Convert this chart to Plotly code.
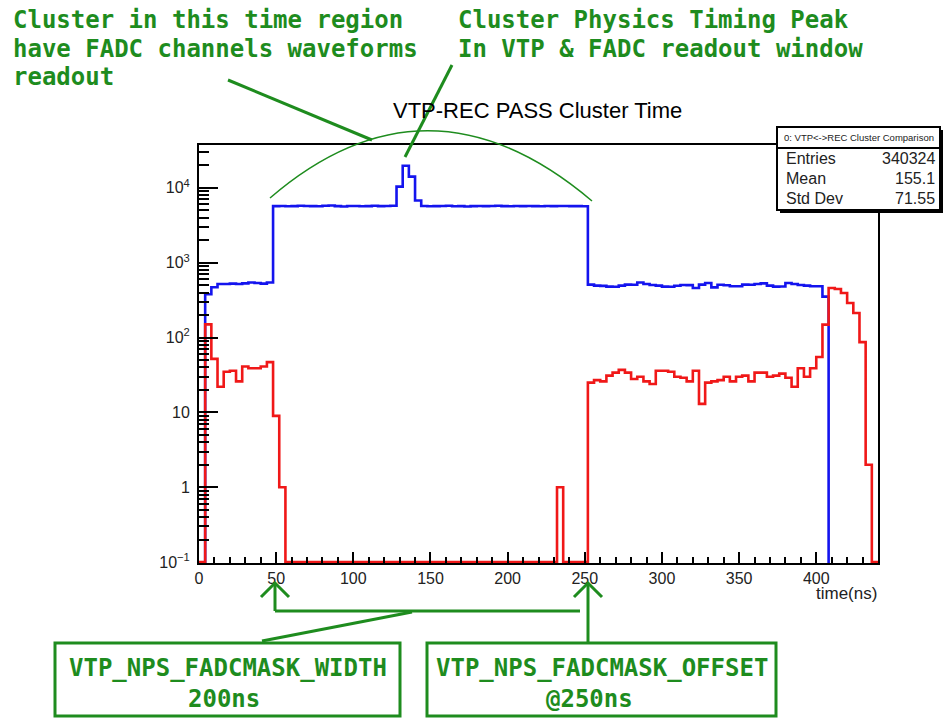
import numpy as np
import plotly.graph_objects as go

# ---- histogram data: 4 ns bins from 0 to 440 ns ----
bin_edges = list(range(0, 444, 4))

# VTP clusters (all)
vtp_counts = (
    [0, 380, 470, 520, 520, 525, 520, 530, 545, 535, 525, 545]
    + [5700, 5720, 5680, 5710, 5760, 5740, 5700, 5690, 5760, 5820,
       5700, 5650, 5720, 5740, 5690, 5700, 5760, 5710, 5730, 5780]
    + [10400, 19800, 14150, 6780]
    + [5740, 5680, 5700, 5720, 5760, 5690, 5700, 5650, 5710, 5720,
       5700, 5740, 5760, 5710, 5690, 5720, 5700, 5730, 5710, 5690,
       5720, 5700, 5740, 5720, 5700, 5710, 5690]
    + [510, 495, 490, 480, 478, 495, 510, 508, 545, 520,
       505, 495, 480, 478, 492, 505, 502, 460, 510, 535,
       468, 508, 500, 485, 485, 510, 508, 520, 530, 495,
       480, 482, 536, 520, 505, 495, 485, 485, 352]
    + [0] * 8
)

# clusters without a matching REC cluster
nomatch_counts = (
    [0, 150, 52, 22, 35, 36, 26, 41, 39, 39, 41, 47, 9, 1]
    + [0] * 44
    + [1]
    + [0] * 4
    + [25, 27, 26, 31, 34, 37, 34, 28, 30, 26,
       24, 36, 36, 35, 30, 29, 26, 36, 13, 25,
       26, 27, 30, 26, 30, 31, 26, 34, 34, 30,
       31, 33, 29, 22, 39, 30, 39, 55, 149]
    + [459, 446, 394, 290, 213, 87, 2, 0]
)

x_tick_vals = [0, 50, 100, 150, 200, 250, 300, 350, 400]
y_tick_vals = [0.1, 1, 10, 100, 1000, 10000]
y_tick_text = ["10<sup>\u22121</sup>", "1", "10", "10<sup>2</sup>", "10<sup>3</sup>", "10<sup>4</sup>"]

stat_title = "0: VTP<->REC Cluster Comparison"
stat_rows = [("Entries", "340324"), ("Mean", "155.1"), ("Std Dev", "71.55")]

plot_title = "VTP-REC PASS Cluster Time"
x_title = "time(ns)"

note_left = ["Cluster in this time region", "have FADC channels waveforms", "readout"]
note_right = ["Cluster Physics Timing Peak", "In VTP & FADC readout window"]
box_width_text = ["VTP_NPS_FADCMASK_WIDTH", "200ns"]
box_offset_text = ["VTP_NPS_FADCMASK_OFFSET", "@250ns"]

# ---- layout geometry (pixels) ----
W, H = 945, 718
L, R, T, B = 199, 878, 145, 563
YMIN_LOG, YMAX_LOG = -1.0, 4.573


def px(x):
    return (x - L) / (R - L)


def py(y):
    return (B - y) / (B - T)


def step_xy(counts, floor):
    # empty bins are drawn at `floor` (on the frame, or below it to hide them)
    ys = [c if c > 0 else floor for c in counts]
    return bin_edges, ys + [ys[-1]]


fig = go.Figure()
bx, by = step_xy(vtp_counts, 10 ** (YMIN_LOG - 1))
fig.add_trace(go.Scatter(x=bx, y=by, mode="lines", line_shape="hv",
                         line=dict(color="#1414ee", width=2.6), hoverinfo="skip"))
rx, ry = step_xy(nomatch_counts, 10 ** YMIN_LOG)
fig.add_trace(go.Scatter(x=rx, y=ry, mode="lines", line_shape="hv",
                         line=dict(color="#f01818", width=2.6), hoverinfo="skip"))

y_minor = [m * 10 ** k for k in range(-1, 5) for m in range(2, 10) if m * 10 ** k < 10 ** YMAX_LOG]
x_minor = list(range(0, 441, 10))

tick_font = dict(family="Liberation Sans, Arial, sans-serif", size=16, color="#222")

fig.update_layout(
    width=W, height=H,
    margin=dict(l=L, r=W - R, t=T, b=H - B, pad=0),
    paper_bgcolor="white", plot_bgcolor="white",
    showlegend=False,
    xaxis=dict(range=[0, 440], tickmode="array", tickvals=x_tick_vals,
               ticks="inside", ticklen=11, tickwidth=2, tickcolor="black",
               minor=dict(tickmode="array", tickvals=x_minor, ticks="inside",
                          ticklen=6, tickwidth=2, tickcolor="black"),
               showline=True, linecolor="black", linewidth=2, mirror=True,
               showgrid=False, zeroline=False, tickfont=tick_font),
    yaxis=dict(type="log", range=[YMIN_LOG - 0.012, YMAX_LOG], tickmode="array",
               tickvals=y_tick_vals, ticktext=y_tick_text,
               ticks="inside", ticklen=19, tickwidth=2, tickcolor="black",
               minor=dict(tickmode="array", tickvals=y_minor, ticks="inside",
                          ticklen=10, tickwidth=2, tickcolor="black"),
               showline=True, linecolor="black", linewidth=2, mirror=True,
               showgrid=False, zeroline=False, tickfont=tick_font,
               ticklabelstandoff=4),
)

ann = []
shapes = []

# title and axis label
ann.append(dict(text=plot_title, x=px(537), y=py(110), xref="paper", yref="paper",
                showarrow=False, xanchor="center", yanchor="middle",
                font=dict(family="Liberation Sans, Arial, sans-serif", size=22, color="black")))
ann.append(dict(text=x_title, x=px(879), y=py(593), xref="paper", yref="paper",
                showarrow=False, xanchor="right", yanchor="middle",
                font=dict(family="Liberation Sans, Arial, sans-serif", size=17, color="#222")))

# statistics box
sb_l, sb_r, sb_t, sb_b, sb_sep = 777, 940, 127, 210, 148
shapes.append(dict(type="rect", xref="paper", yref="paper",
                   x0=px(sb_l + 3), x1=px(sb_r + 3), y0=py(sb_t + 3), y1=py(sb_b + 3),
                   fillcolor="black", line=dict(width=0), layer="above"))
shapes.append(dict(type="rect", xref="paper", yref="paper",
                   x0=px(sb_l), x1=px(sb_r), y0=py(sb_t), y1=py(sb_b),
                   fillcolor="white", line=dict(color="black", width=2), layer="above"))
shapes.append(dict(type="line", xref="paper", yref="paper",
                   x0=px(sb_l), x1=px(sb_r), y0=py(sb_sep), y1=py(sb_sep),
                   line=dict(color="black", width=2), layer="above"))
ann.append(dict(text=stat_title, x=px((sb_l + sb_r) / 2), y=py(137.5), xref="paper", yref="paper",
                showarrow=False, xanchor="center", yanchor="middle",
                font=dict(family="Liberation Sans, Arial, sans-serif", size=9.5, color="#222")))
for i, (k, v) in enumerate(stat_rows):
    yy = 158.5 + i * 20
    ann.append(dict(text=k, x=px(784), y=py(yy), xref="paper", yref="paper",
                    showarrow=False, xanchor="left", yanchor="middle",
                    font=dict(family="Liberation Sans, Arial, sans-serif", size=16, color="#222")))
    ann.append(dict(text=v, x=px(937), y=py(yy), xref="paper", yref="paper",
                    showarrow=False, xanchor="right", yanchor="middle",
                    font=dict(family="Liberation Sans, Arial, sans-serif", size=16, color="#222")))

# green annotations
GREEN = "#1e8c1e"
mono = dict(family="DejaVu Sans Mono, monospace", size=24, color=GREEN)
for i, line in enumerate(note_left):
    ann.append(dict(text="<b>%s</b>" % line, x=px(11), y=py(20 + i * 28.5), xref="paper", yref="paper",
                    showarrow=False, xanchor="left", yanchor="middle", font=mono))
for i, line in enumerate(note_right):
    ann.append(dict(text="<b>%s</b>" % line, x=px(456), y=py(20 + i * 28.5), xref="paper", yref="paper",
                    showarrow=False, xanchor="left", yanchor="middle", font=mono))

for cx, lines in ((228, box_width_text), (602, box_offset_text)):
    ann.append(dict(text="<b>%s</b>" % lines[0], x=px(cx), y=py(668), xref="paper", yref="paper",
                    showarrow=False, xanchor="center", yanchor="middle", font=mono))
    ann.append(dict(text="<b>%s</b>" % lines[1], x=px(cx - 4 if cx < 400 else cx - 13), y=py(699),
                    xref="paper", yref="paper",
                    showarrow=False, xanchor="center", yanchor="middle", font=mono))


def seg(x0, y0, x1, y1, w=3):
    shapes.append(dict(type="line", xref="paper", yref="paper",
                       x0=px(x0), y0=py(y0), x1=px(x1), y1=py(y1),
                       line=dict(color=GREEN, width=w), layer="above"))


def path(pts, w=3):
    d = "M " + " L ".join("%f,%f" % (px(a), py(b)) for a, b in pts)
    shapes.append(dict(type="path", xref="paper", yref="paper", path=d,
                       line=dict(color=GREEN, width=w), layer="above"))


# pointer lines at the top
seg(228, 80, 372, 140)
seg(452, 65, 405, 157)
shapes.append(dict(type="path", xref="paper", yref="paper",
                   path="M %f,%f Q %f,%f %f,%f" % (px(270), py(198), px(428), py(62), px(592), py(201)),
                   line=dict(color=GREEN, width=1.5), layer="above"))

# bottom arrows and connectors
for ax_ in (275, 588):
    path([(ax_ - 14, 597), (ax_, 583), (ax_ + 14, 597)])
seg(275, 583, 275, 611)
seg(275, 611, 580, 611)
seg(262, 641, 412, 612)
seg(588, 583, 588, 642)

# boxes around the register settings
for x0, x1 in ((55, 400), (427, 776)):
    shapes.append(dict(type="rect", xref="paper", yref="paper",
                       x0=px(x0), x1=px(x1), y0=py(643), y1=py(716),
                       line=dict(color=GREEN, width=3), fillcolor="rgba(0,0,0,0)", layer="above"))

fig.update_layout(annotations=ann, shapes=shapes)
fig.write_html("out.html")
